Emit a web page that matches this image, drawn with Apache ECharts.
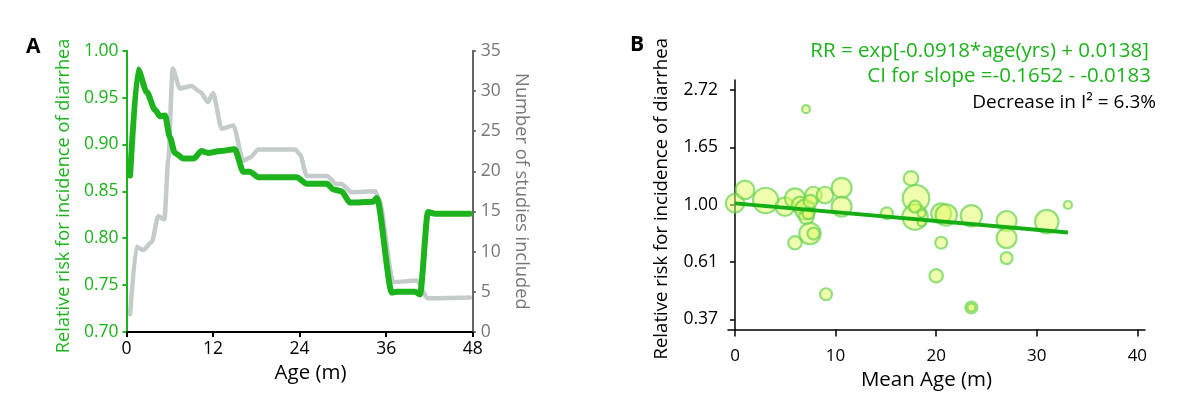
<!DOCTYPE html>
<html><head><meta charset="utf-8">
<script src="https://cdn.jsdelivr.net/npm/echarts@6/dist/echarts.min.js"></script>
<style>html,body{margin:0;padding:0;background:#fff}#c{width:1200px;height:408px}</style>
</head><body><div id="c"></div>
<script>
// ---------- Panel A data ----------
const ageRR = [0.5,1.6,2.8,3.95,4.65,5.35,6.0,6.7,7.9,9.3,10.4,11.3,13.0,15.0,16.2,17.1,18.3,23.6,25.0,27.8,28.7,29.8,31.0,34.2,34.7,36.8,37.5,40.0,40.7,41.8,42.8,47.6];
const relRisk = [0.867,0.980,0.956,0.937,0.930,0.931,0.908,0.891,0.885,0.885,0.893,0.891,0.893,0.895,0.871,0.871,0.865,0.865,0.858,0.858,0.852,0.850,0.838,0.839,0.843,0.742,0.743,0.743,0.740,0.828,0.826,0.826];
const ageN = [0.5,1.4,2.3,3.5,4.4,5.25,5.8,6.4,7.4,9.0,10.2,11.3,12.0,13.2,14.8,16.2,17.1,18.3,23.4,24.05,25.0,27.8,29.1,29.8,31.2,34.5,35.0,37.0,40.2,41.8,47.6];
const nStudies = [2.2,10.6,10.2,11.2,14.4,14.0,21.5,32.8,30.3,30.6,29.9,28.6,29.7,25.3,25.7,21.3,21.7,22.7,22.7,22.1,19.4,19.4,18.4,18.4,17.4,17.5,16.5,6.2,6.4,4.2,4.3];

// ---------- Panel B data ----------
const meanAge = [0.0,1.0,3.05,4.97,5.96,6.46,6.96,7.8,8.95,10.6,10.6,7.1,7.45,7.8,5.96,7.06,9.05,15.1,17.5,18.0,17.9,17.9,18.55,18.55,20.5,21.0,20.5,20.0,23.5,23.5,27.0,27.0,27.0,31.0,33.1,7.5,7.3,23.5];
const studyRR = [1.015,1.14,1.04,0.985,1.06,1.00,0.96,1.09,1.09,1.16,0.985,0.90,0.78,0.78,0.72,2.30,0.46,0.93,1.26,1.06,0.90,0.985,0.93,0.86,0.93,0.917,0.72,0.54,0.41,0.91,0.87,0.75,0.63,0.865,1.00,1.03,0.93,0.41];
const studyWeight = [9.3,9.3,12.7,9.3,10,8.3,10,8.3,8.3,10,10,7.3,10.7,6,6.7,4,6,6,7.3,13.3,12.7,6,4,4,10,10.7,6,6.7,6,10.7,10,10,6,11.7,4,6.7,6,4];
const fitAge = [0, 33.1];
const fitRR = [1.014, 0.787];
const yTicksB = [0.37, 0.61, 1.00, 1.65, 2.72];
const xTicksB = [0, 10, 20, 30, 40];

const FONT = '"Open Sans"';
const GREEN = '#1db31d';
const chart = echarts.init(document.getElementById('c'), null, {renderer: 'canvas'});

const zip = (a, b) => a.map((v, i) => [v, b[i]]);
const bubbles = meanAge.map((v, i) => [v, studyRR[i], studyWeight[i]]);

chart.setOption({
  animation: false,
  textStyle: {fontFamily: FONT},
  grid: [
    {left: 126.5, top: 50.7, width: 346.2, height: 281.3},
    {left: 728, top: 80, width: 417, height: 249.5}
  ],
  xAxis: [
    {gridIndex: 0, type: 'value', min: 0, max: 48, interval: 12,
     axisLine: {lineStyle: {color: '#000', width: 2}},
     axisTick: {length: 5, lineStyle: {color: '#000', width: 2}},
     axisLabel: {color: '#000', fontSize: 17.5, margin: 8, fontFamily: FONT},
     splitLine: {show: false},
     name: 'Age (m)', nameLocation: 'middle', nameGap: 24,
     nameTextStyle: {color: '#000', fontSize: 20.5, fontFamily: FONT, padding: [0, 0, 0, 22]}},
    {gridIndex: 1, type: 'value', min: -0.696, max: 40.76,
     axisLine: {lineStyle: {color: '#000', width: 1.5}},
     axisTick: {length: 7, customValues: xTicksB, lineStyle: {color: '#000', width: 1.5}},
     axisLabel: {color: '#000', fontSize: 17, margin: 18, customValues: xTicksB, fontFamily: FONT},
     splitLine: {show: false},
     name: 'Mean Age (m)', nameLocation: 'middle', nameGap: 40,
     nameTextStyle: {color: '#000', fontSize: 20.5, fontFamily: FONT, padding: [0, 20, 0, 0]}}
  ],
  yAxis: [
    {gridIndex: 0, type: 'value', min: 0.70, max: 1.00, interval: 0.05, position: 'left',
     axisLine: {show: true, lineStyle: {color: GREEN, width: 2}},
     axisTick: {show: true, length: 4, lineStyle: {color: GREEN, width: 2}},
     axisLabel: {color: GREEN, fontSize: 17.5, margin: 8, formatter: v => v.toFixed(2), fontFamily: FONT},
     splitLine: {show: false},
     name: 'Relative risk for incidence of diarrhea', nameLocation: 'middle', nameGap: 54,
     nameTextStyle: {color: GREEN, fontSize: 18.2, fontFamily: FONT, padding: [0, 9, 0, 0]}},
    {gridIndex: 0, type: 'value', min: 0, max: 35, interval: 5, position: 'right',
     axisLine: {show: true, lineStyle: {color: '#666', width: 2}},
     axisTick: {show: true, length: 3, lineStyle: {color: '#666', width: 2}},
     axisLabel: {color: '#777', fontSize: 17.5, margin: 8, fontFamily: FONT},
     splitLine: {show: false},
     name: 'Number of studies included', nameLocation: 'middle', nameGap: 40, nameRotate: -90,
     nameTextStyle: {color: '#777', fontSize: 18.3, fontFamily: FONT}},
    {gridIndex: 1, type: 'log', logBase: Math.E, min: 0.3386, max: 2.965,
     axisLine: {show: true, lineStyle: {color: '#000', width: 1.5}},
     axisTick: {show: true, length: 5, customValues: yTicksB, lineStyle: {color: '#000', width: 1.5}},
     axisLabel: {color: '#000', fontSize: 17.5, margin: 10, customValues: yTicksB,
       formatter: v => Number(v).toFixed(2), fontFamily: FONT},
     splitLine: {show: false},
     name: 'Relative risk for incidence of diarrhea', nameLocation: 'middle', nameGap: 57,
     nameTextStyle: {color: '#000', fontSize: 18.6, fontFamily: FONT, padding: [0, 0, 0, 12]}}
  ],
  series: [
    {type: 'line', xAxisIndex: 0, yAxisIndex: 1, data: zip(ageN, nStudies),
     showSymbol: false, smooth: 0.25, smoothMonotone: 'x',
     lineStyle: {color: '#c3cbcb', width: 4.5, join: 'round', cap: 'round'}, z: 2},
    {type: 'line', xAxisIndex: 0, yAxisIndex: 0, data: zip(ageRR, relRisk),
     showSymbol: false, smooth: 0.25, smoothMonotone: 'x',
     lineStyle: {color: GREEN, width: 6, join: 'round', cap: 'round'}, z: 3},
    {type: 'scatter', xAxisIndex: 1, yAxisIndex: 2, data: bubbles,
     symbolSize: d => d[2] * 2,
     itemStyle: {color: 'rgba(224,252,100,0.65)', borderColor: 'rgba(100,208,80,0.85)', borderWidth: 2.2},
     z: 2},
    {type: 'line', xAxisIndex: 1, yAxisIndex: 2, data: zip(fitAge, fitRR),
     showSymbol: false, lineStyle: {color: '#14ad14', width: 4}, z: 4}
  ],
  graphic: [
    {type: 'text', left: 26, top: 37, style: {text: 'A', fill: '#000', font: 'bold 21px ' + FONT}},
    {type: 'text', left: 630, top: 35, style: {text: 'B', fill: '#000', font: 'bold 21px ' + FONT}},
    {type: 'text', x: 1149, y: 51, style: {text: 'RR = exp[-0.0918*age(yrs) + 0.0138]', fill: GREEN, font: '20.5px ' + FONT, align: 'right', verticalAlign: 'middle'}},
    {type: 'text', x: 1151, y: 76, style: {text: 'CI for slope =-0.1652 - -0.0183', fill: GREEN, font: '20.5px ' + FONT, align: 'right', verticalAlign: 'middle'}},
    {type: 'text', x: 1156, y: 103, style: {text: 'Decrease in I\u00b2 = 6.3%', fill: '#000', font: '19px ' + FONT, align: 'right', verticalAlign: 'middle'}}
  ]
});
</script></body></html>
